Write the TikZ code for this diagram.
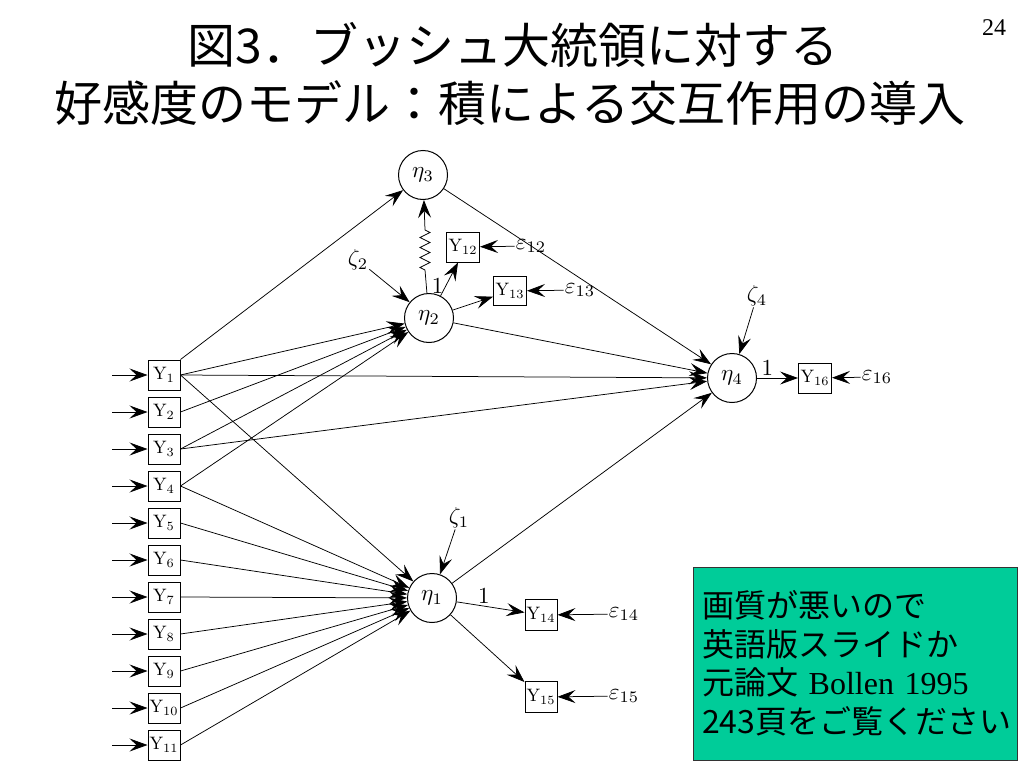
\documentclass[tikz,border=0pt]{standalone}
\usepackage{graphicx}
\usepackage{fontspec}
\newfontfamily\jp{Noto Sans CJK JP}
\newfontfamily\tms{Liberation Serif}
\usetikzlibrary{arrows.meta,decorations.pathmorphing}
\definecolor{notegreen}{RGB}{0,204,153}
\newcommand\ylab[1]{\scalebox{1.8}{$\mathrm{Y}_{#1}$}}
\newcommand\glab[1]{\scalebox{2.3}{$#1$}}
\begin{document}
\begin{tikzpicture}[x=1pt,y=-1pt,
  ybox/.style={draw, line width=1pt, minimum width=32pt, minimum height=30pt, inner sep=0pt},
  lat/.style={draw, circle, line width=1pt, minimum size=49pt, inner sep=0pt},
  lbl/.style={inner sep=1pt},
  ln/.style={line width=0.75pt},
  arr/.style={line width=0.75pt, -{Stealth[length=18pt,width=13pt,inset=7pt]}},
  ttl/.style={font=\jp\fontsize{48}{48}\selectfont, inner sep=0pt}
]
\fill[white] (0,0) rectangle (1024,768);
\useasboundingbox (0,0) rectangle (1024,768);

% title
\node[ttl] (t1) at (513,45) {図3．ブッシュ大統領に対する};
\node[ttl] (t2) at (510,103) {好感度のモデル：積による交互作用の導入};
\node[font=\tms\fontsize{24}{24}\selectfont, inner sep=0pt] (pg) at (994,28) {24};

% observed exogenous boxes
\foreach \i in {1,...,11} {
  \pgfmathsetmacro\yy{375+37*(\i-1)}
  \node[ybox] (Y\i) at (164,\yy) {\ylab{\i}};
  \coordinate (s\i) at (112,\yy);
  \draw[arr] (s\i) -- (Y\i.west);
}

% latent variables
\node[lat] (eta3) at (423,175) {\glab{\eta_3}};
\node[lat] (eta2) at (429,318) {\glab{\eta_2}};
\node[lat] (eta4) at (732,378) {\glab{\eta_4}};
\node[lat] (eta1) at (432,598) {\glab{\eta_1}};

% indicators
\node[ybox, minimum width=33pt] (Y12) at (463,247) {\ylab{12}};
\node[ybox, minimum width=33pt, minimum height=29pt] (Y13) at (510,291) {\ylab{13}};
\node[ybox, minimum width=33pt] (Y16) at (815,378) {\ylab{16}};
\node[ybox, minimum width=32pt, minimum height=31pt] (Y14) at (541,615) {\ylab{14}};
\node[ybox, minimum width=32pt, minimum height=31pt] (Y15) at (541,697) {\ylab{15}};

% error labels
\node[lbl] (e12) at (531,246) {\glab{\varepsilon_{12}}};
\node[lbl] (e13) at (580,290) {\glab{\varepsilon_{13}}};
\node[lbl] (e16) at (877,377) {\glab{\varepsilon_{16}}};
\node[lbl] (e14) at (624,614) {\glab{\varepsilon_{14}}};
\node[lbl] (e15) at (624,696) {\glab{\varepsilon_{15}}};

% disturbance labels
\node[lbl] (z2) at (358,260) {\glab{\zeta_2}};
\node[lbl] (z4) at (757,296) {\glab{\zeta_4}};
\node[lbl] (z1) at (459,518) {\glab{\zeta_1}};

% eta3 part
\draw[arr] (Y1.north east) -- (eta3);
\draw[arr] (eta3) -- (eta4);
\coordinate (zb) at (425,270);
\coordinate (zt) at (425,230);
\draw[ln] (eta2) -- (zb);
\draw[ln, decorate, decoration={zigzag, amplitude=5pt, segment length=10pt}] (zb) -- (zt);
\draw[arr] (zt) -- (eta3);

% eta2 part
\draw[arr] (eta2) -- node[lbl, left=1pt, pos=0.3] (l12) {\glab{1}} ([xshift=-5pt]Y12.south);
\draw[arr] (eta2) -- (Y13);
\draw[arr] (e12) -- (Y12);
\draw[arr] (e13) -- (Y13);
\draw[arr] (z2) -- (eta2);
\foreach \i in {1,2,3,4} \draw[arr] (Y\i.east) -- (eta2);

% eta4 part
\draw[arr] (eta2) -- (eta4);
\draw[arr] (Y1.east) -- (eta4);
\draw[arr] (Y3.east) -- (eta4);
\draw[arr] (eta1) -- (eta4);
\draw[arr] (z4) -- (eta4);
\draw[arr] (eta4) -- node[lbl, above=1pt, pos=0.25] (l16) {\glab{1}} (Y16);
\draw[arr] (e16) -- (Y16);

% eta1 part
\foreach \i in {1,4,5,6,7,8,9,10,11} \draw[arr] (Y\i.east) -- (eta1);
\draw[arr] (z1) -- (eta1);
\draw[arr] (eta1) -- node[lbl, above=1pt, pos=0.4] (l14) {\glab{1}} (Y14);
\draw[arr] (eta1) -- (Y15);
\draw[arr] (e14) -- (Y14);
\draw[arr] (e15) -- (Y15);

% note box
\node[draw=black!80, line width=0.8pt, fill=notegreen, minimum width=324pt, minimum height=193pt,
      text width=306pt, align=left, inner sep=9pt,
      font=\jp\fontsize{32}{38.5}\selectfont] (note) at (855,663.5)
  {画質が悪いので\\英語版スライドか\\元論文 {\tms Bollen 1995}\\243頁をご覧ください};
\end{tikzpicture}
\end{document}
